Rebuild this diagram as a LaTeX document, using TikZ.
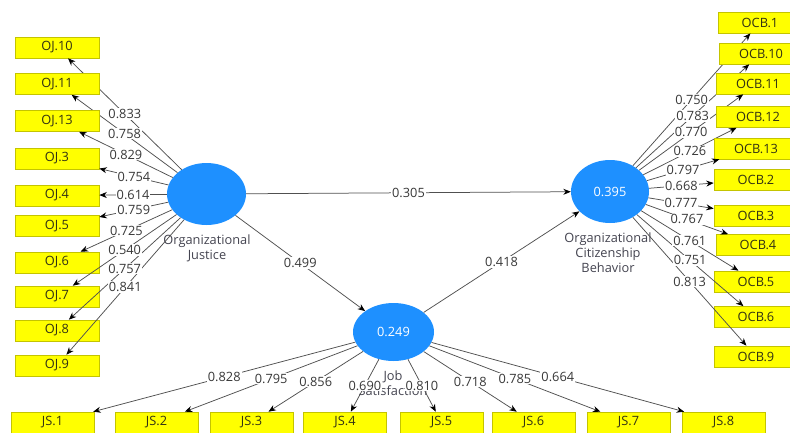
\documentclass[tikz,border=0pt]{standalone}
\usepackage{fontspec}
\setmainfont{Open Sans}
\usetikzlibrary{arrows.meta,shapes.geometric}
\definecolor{lvblue}{RGB}{30,144,255}
\definecolor{mvfill}{RGB}{255,255,0}
\definecolor{mvdraw}{RGB}{196,196,0}
\definecolor{lncol}{RGB}{80,80,80}
\definecolor{txtcol}{RGB}{56,56,56}
\definecolor{captxt}{RGB}{68,68,80}
\definecolor{boxtxt}{RGB}{50,50,20}
\begin{document}
\begin{tikzpicture}[x=1pt,y=-1pt,font=\fontsize{12.8}{15}\selectfont,
  lvnode/.style={ellipse,fill=lvblue,draw=none,text=white,inner sep=0pt},
  mvbox/.style={rectangle,fill=mvfill,draw=mvdraw,line width=0.6pt,minimum width=84pt,minimum height=21pt,inner sep=0pt,text=boxtxt},
  jsbox/.style={mvbox,minimum width=83pt},
  ldline/.style={draw=lncol,line width=0.75pt,-{Stealth[length=7.5pt,width=6pt,black]}},
  lbl/.style={fill=white,inner sep=1pt,text=txtcol},
  lvcap/.style={align=center,text=captxt,inner sep=0pt}]
\useasboundingbox (0,0) rectangle (790,432);
% latent variables
\node[lvnode,minimum width=79pt,minimum height=62pt] (oj) at (206.5,194) {};
\node[lvnode,minimum width=78pt,minimum height=63pt] (ocb) at (610,191.5) {0.395};
\node[lvnode,minimum width=81pt,minimum height=58pt] (js) at (393.5,332) {0.249};
\node[lvcap] (ojcap) at (207,248.5) {Organizational\\Justice};
\node[lvcap] (ocbcap) at (608,252.5) {Organizational\\Citizenship\\Behavior};
\node[lvcap] (jscap) at (393,383.5) {Job\\Satisfaction};
% indicators and loadings (lines)
\foreach \n/\y in {10/47.5,11/84,13/121,3/158.5,4/195.5,5/226,6/262.5,7/296.5,8/330.5,9/365.5}{
  \node[mvbox] (oj\n) at (57,\y) {OJ.\n};
  \draw[ldline] (oj) -- coordinate[midway] (moj\n) (oj\n);
}
\foreach \n/\x/\y in {1/760/22.5,10/761/53.5,11/758/83.5,12/758/117,13/756/148.5,2/756/179.5,3/756/215.5,4/758/245,5/756/281.5,6/756/317,9/756/356.5}{
  \node[mvbox] (ocb\n) at (\x,\y) {OCB.\n};
  \draw[ldline] (ocb) -- coordinate[midway] (mocb\n) (ocb\n);
}
\foreach \n/\x in {1/52.5,2/156.5,3/251.5,4/345,5/441.5,6/533.5,7/628.5,8/723.5}{
  \node[jsbox] (js\n) at (\x,422.5) {JS.\n};
  \draw[ldline] (js) -- coordinate[midway] (mjs\n) (js\n);
}
% structural paths
\draw[ldline] (oj) -- coordinate[midway] (p1) (ocb);
\draw[ldline] (oj) -- coordinate[midway] (p2) (js);
\draw[ldline] (js) -- coordinate[midway] (p3) (ocb);
% labels on top
\foreach \n/\v in {10/0.833,11/0.758,13/0.829,3/0.754,4/0.614,5/0.759,6/0.725,7/0.540,8/0.757,9/0.841}{
  \node[lbl] (loj\n) at (moj\n) {\v};
}
\foreach \n/\v in {1/0.750,10/0.783,11/0.770,12/0.726,13/0.797,2/0.668,3/0.777,4/0.767,5/0.761,6/0.751,9/0.813}{
  \node[lbl] (locb\n) at (mocb\n) {\v};
}
\foreach \n/\v in {1/0.828,2/0.795,3/0.856,4/0.690,5/0.810,6/0.718,7/0.785,8/0.664}{
  \node[lbl] (ljs\n) at (mjs\n) {\v};
}
\node[lbl] (lp1) at (p1) {0.305};
\node[lbl] (lp2) at (p2) {0.499};
\node[lbl] (lp3) at (p3) {0.418};
\end{tikzpicture}
\end{document}
